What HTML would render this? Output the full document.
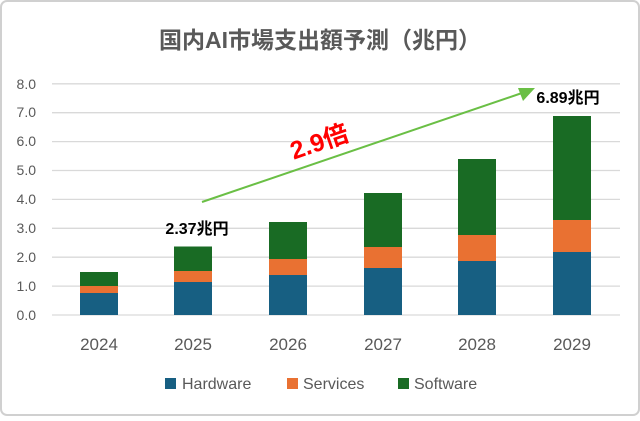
<!DOCTYPE html>
<html><head><meta charset="utf-8"><style>
body{margin:0;background:#fff}
svg text{font-family:"Liberation Sans","Noto Sans CJK JP",sans-serif}
</style></head><body>
<svg width="640" height="416" viewBox="0 0 640 416">
<rect x="1" y="1" width="638" height="414" rx="6" fill="#fff" stroke="#d0d0d0" stroke-width="2"/>
<text x="320" y="48" text-anchor="middle" font-size="23" font-weight="bold" fill="#595959">国内AI市場支出額予測（兆円）</text>
<g stroke="#d9d9d9" stroke-width="1.3">
<line x1="52" x2="620" y1="315" y2="315"/><line x1="52" x2="620" y1="286.1" y2="286.1"/>
<line x1="52" x2="620" y1="257.2" y2="257.2"/><line x1="52" x2="620" y1="228.3" y2="228.3"/>
<line x1="52" x2="620" y1="199.4" y2="199.4"/><line x1="52" x2="620" y1="170.5" y2="170.5"/>
<line x1="52" x2="620" y1="141.6" y2="141.6"/><line x1="52" x2="620" y1="112.7" y2="112.7"/>
<line x1="52" x2="620" y1="83.8" y2="83.8"/>
</g>
<g font-size="14" fill="#595959" text-anchor="end">
<text x="36" y="320">0.0</text><text x="36" y="291">1.0</text><text x="36" y="262">2.0</text>
<text x="36" y="233">3.0</text><text x="36" y="204">4.0</text><text x="36" y="175">5.0</text>
<text x="36" y="146">6.0</text><text x="36" y="117">7.0</text><text x="36" y="89">8.0</text>
</g>
<g>
<rect x="80" y="293" width="38" height="22" fill="#175f82"/><rect x="80" y="286" width="38" height="7" fill="#e97132"/><rect x="80" y="272" width="38" height="14" fill="#196b24"/>
<rect x="174" y="282" width="38" height="33" fill="#175f82"/><rect x="174" y="271" width="38" height="11" fill="#e97132"/><rect x="174" y="246.5" width="38" height="24.5" fill="#196b24"/>
<rect x="269" y="275" width="38" height="40" fill="#175f82"/><rect x="269" y="259" width="38" height="16" fill="#e97132"/><rect x="269" y="222" width="38" height="37" fill="#196b24"/>
<rect x="364" y="268" width="38" height="47" fill="#175f82"/><rect x="364" y="247" width="38" height="21" fill="#e97132"/><rect x="364" y="193" width="38" height="54" fill="#196b24"/>
<rect x="458" y="261" width="38" height="54" fill="#175f82"/><rect x="458" y="235" width="38" height="26" fill="#e97132"/><rect x="458" y="159" width="38" height="76" fill="#196b24"/>
<rect x="553" y="252" width="38" height="63" fill="#175f82"/><rect x="553" y="220" width="38" height="32" fill="#e97132"/><rect x="553" y="116" width="38" height="104" fill="#196b24"/>
</g>
<g font-size="17" fill="#595959" text-anchor="middle">
<text x="99" y="350">2024</text><text x="193" y="350">2025</text><text x="288" y="350">2026</text>
<text x="383" y="350">2027</text><text x="477" y="350">2028</text><text x="572" y="350">2029</text>
</g>
<line x1="202" y1="202" x2="522" y2="93" stroke="#6abf45" stroke-width="2"/>
<polygon points="535,88 518,88 523,101" fill="#6abf45"/>
<text x="322" y="150" font-size="25" font-weight="bold" fill="#ff0000" text-anchor="middle" transform="rotate(-19 322 150)">2.9倍</text>
<text x="197" y="234" font-size="16" font-weight="bold" fill="#000" text-anchor="middle">2.37兆円</text>
<text x="568" y="103" font-size="16" font-weight="bold" fill="#000" text-anchor="middle">6.89兆円</text>
<g font-size="16" fill="#595959">
<rect x="165" y="378" width="11" height="11" fill="#175f82"/><text x="182" y="389">Hardware</text>
<rect x="287" y="378" width="11" height="11" fill="#e97132"/><text x="303" y="389">Services</text>
<rect x="398" y="378" width="11" height="11" fill="#196b24"/><text x="414" y="389">Software</text>
</g>
</svg>
</body></html>
